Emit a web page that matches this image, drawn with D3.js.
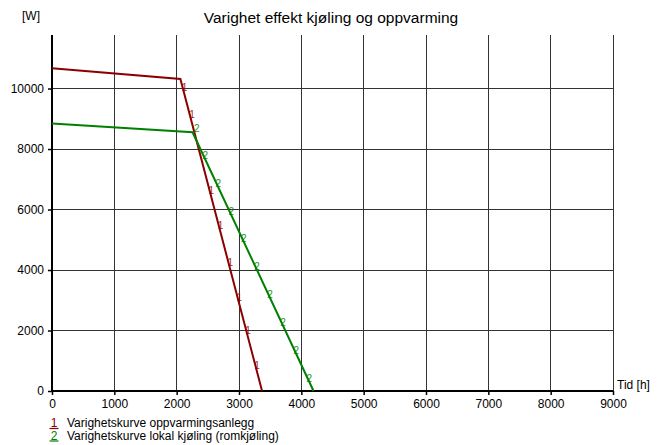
<!DOCTYPE html>
<html>
<head>
<meta charset="utf-8">
<script src="https://cdn.jsdelivr.net/npm/d3@7"></script>
<style>
  body { margin: 0; background: #fff; }
  svg { font-family: "Liberation Sans", Arial, sans-serif; }
</style>
</head>
<body>
<svg id="chart" width="665" height="445"></svg>
<script>
// Duration curves, [hours, watts]
const heatingCurve = [[0, 10670], [2060, 10314], [3370, 0]];
const coolingCurve = [[0, 8840], [2255, 8554], [4196, 0]];

// Curve identifier glyphs placed along each line
const heatingMarks = [[2094, 10050], [2215, 9150], [2525, 6650], [2672, 5495], [2827, 4274], [2974, 3119], [3112, 2030], [3259, 875]];
const coolingMarks = [[2290, 8690], [2425, 7805], [2635, 6881], [2844, 5957], [3046, 5066], [3256, 4142], [3466, 3218], [3675, 2294], [3885, 1370], [4095, 446]];

const xTicks = [0, 1000, 2000, 3000, 4000, 5000, 6000, 7000, 8000, 9000];
const yTicks = [0, 2000, 4000, 6000, 8000, 10000];

const series = [
  { id: "1", name: "Varighetskurve oppvarmingsanlegg", color: "#8b0000", points: heatingCurve, marks: heatingMarks },
  { id: "2", name: "Varighetskurve lokal kjøling (romkjøling)", color: "#008000", points: coolingCurve, marks: coolingMarks }
];

const svg = d3.select("#chart");
const margin = { left: 52, right: 52, top: 35, bottom: 54 };
const W = 665, H = 445;

const x = d3.scaleLinear().domain([0, 9000]).range([margin.left, W - margin.right]);
const y = d3.scaleLinear().domain([0, 11770]).range([H - margin.bottom, margin.top]);

// grid
svg.append("g").selectAll("line.vg")
  .data(xTicks.slice(1)).enter().append("line")
  .attr("x1", d => x(d)).attr("x2", d => x(d))
  .attr("y1", margin.top).attr("y2", y(0))
  .attr("stroke", "#333").attr("stroke-width", 1).attr("shape-rendering", "crispEdges");
svg.append("g").selectAll("line.hg")
  .data(yTicks.slice(1)).enter().append("line")
  .attr("x1", x(0)).attr("x2", x(9000))
  .attr("y1", d => y(d)).attr("y2", d => y(d))
  .attr("stroke", "#333").attr("stroke-width", 1).attr("shape-rendering", "crispEdges");

// axes
const xAxis = svg.append("g")
  .attr("transform", `translate(0,${y(0)})`)
  .call(d3.axisBottom(x).tickValues(xTicks).tickSize(4).tickPadding(4).tickFormat(d3.format("d")));
const yAxis = svg.append("g")
  .attr("transform", `translate(${x(0)},0)`)
  .call(d3.axisLeft(y).tickValues(yTicks).tickSize(4).tickPadding(4).tickFormat(d3.format("d")));
[xAxis, yAxis].forEach(a => {
  a.select(".domain").remove();
  a.selectAll(".tick line").attr("stroke", "#000").attr("stroke-width", 1.5);
  a.selectAll(".tick text").attr("font-size", 12).attr("fill", "#000")
    .attr("font-family", "Liberation Sans, Arial, sans-serif");
});
svg.append("line")
  .attr("x1", x(0)).attr("x2", x(9000)).attr("y1", y(0)).attr("y2", y(0))
  .attr("stroke", "#000").attr("stroke-width", 2);
svg.append("line")
  .attr("x1", x(0)).attr("x2", x(0)).attr("y1", margin.top).attr("y2", y(0))
  .attr("stroke", "#000").attr("stroke-width", 2);

// lines
const line = d3.line().x(d => x(d[0])).y(d => y(d[1]));
series.forEach(s => {
  svg.append("path").datum(s.points)
    .attr("d", line).attr("fill", "none")
    .attr("stroke", s.color).attr("stroke-width", 2);
  svg.append("g").selectAll("text")
    .data(s.marks).enter().append("text")
    .attr("x", d => x(d[0]) + 2).attr("y", d => y(d[1]) + 4)
    .attr("text-anchor", "middle").attr("font-size", 10)
    .attr("fill", s.color).attr("opacity", 0.85)
    .text(s.id);
});

// titles
svg.append("text").attr("x", 331).attr("y", 23).attr("text-anchor", "middle")
  .attr("font-size", 15.5).text("Varighet effekt kjøling og oppvarming");
svg.append("text").attr("x", 22).attr("y", 20).attr("font-size", 12).text("[W]");
svg.append("text").attr("x", 617).attr("y", 389).attr("font-size", 12).text("Tid [h]");

// legend
const legend = svg.append("g");
series.forEach((s, i) => {
  const ly = 427 + i * 12.5;
  legend.append("text").attr("x", 54).attr("y", ly).attr("text-anchor", "middle")
    .attr("font-size", 12).attr("fill", s.color).text(s.id);
  legend.append("line").attr("x1", 49.5).attr("x2", 58.5).attr("y1", ly + 1.5).attr("y2", ly + 1.5)
    .attr("stroke", s.color).attr("stroke-width", 1.2);
  legend.append("text").attr("x", 67).attr("y", ly).attr("font-size", 12).attr("fill", "#000").text(s.name);
});
</script>
</body>
</html>
